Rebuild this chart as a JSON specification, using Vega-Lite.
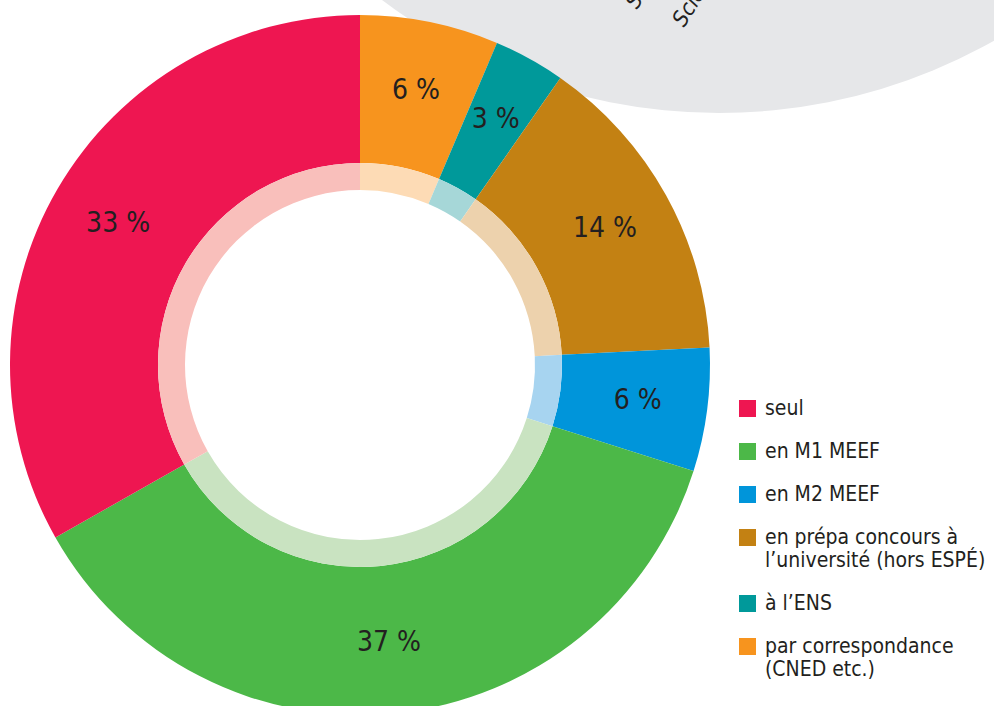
{
  "$schema": "https://vega.github.io/schema/vega-lite/v6.json",
  "width": 720,
  "height": 730,
  "padding": {"left": 0, "top": 0, "right": 274, "bottom": 0},
  "autosize": {"type": "none"},
  "background": "white",
  "view": {"stroke": null},
  "config": {"font": "DejaVu Sans Condensed"},
  "data": {
    "values": [
      {"cat": "par correspondance (CNED etc.)", "share": 6.4, "label": "6 %", "order": 1},
      {"cat": "à l’ENS", "share": 3.3, "label": "3 %", "order": 2},
      {"cat": "en prépa concours à l’université (hors ESPÉ)", "share": 14.5, "label": "14 %", "order": 3},
      {"cat": "en M2 MEEF", "share": 5.7, "label": "6 %", "order": 4},
      {"cat": "en M1 MEEF", "share": 36.9, "label": "37 %", "order": 5},
      {"cat": "seul", "share": 33.2, "label": "33 %", "order": 6}
    ]
  },
  "layer": [
    {
      "data": {"values": [{"shape": "background circle"}]},
      "mark": {"type": "arc", "x": 719, "y": -446, "outerRadius": 559, "innerRadius": 0, "theta": 0, "theta2": 6.2832, "color": "#e6e7e9"},
      "encoding": {}
    },
    {
      "data": {"values": [{"t": "Sciences", "k": 1}, {"t": "Sciences", "k": 2}]},
      "transform": [{"filter": "datum.k == 1"}],
      "mark": {"type": "text", "x": 637, "y": 10, "angle": -58, "align": "left", "baseline": "alphabetic", "fontSize": 22, "fontStyle": "italic", "color": "#231f20"},
      "encoding": {"text": {"field": "t"}}
    },
    {
      "data": {"values": [{"t": "Sciences", "k": 1}, {"t": "Sciences", "k": 2}]},
      "transform": [{"filter": "datum.k == 2"}],
      "mark": {"type": "text", "x": 684, "y": 28, "angle": -58, "align": "left", "baseline": "alphabetic", "fontSize": 22, "fontStyle": "italic", "color": "#231f20"},
      "encoding": {"text": {"field": "t"}}
    },
    {
      "mark": {"type": "arc", "outerRadius": 350, "innerRadius": 202},
      "encoding": {
        "theta": {"field": "share", "type": "quantitative", "stack": true},
        "order": {"field": "order", "type": "quantitative"},
        "color": {
          "field": "cat",
          "type": "nominal",
          "scale": {
            "domain": ["seul", "en M1 MEEF", "en M2 MEEF", "en prépa concours à l’université (hors ESPÉ)", "à l’ENS", "par correspondance (CNED etc.)"],
            "range": ["#ee1651", "#4cb848", "#0095da", "#c38113", "#00999a", "#f7941e"]
          },
          "legend": {
            "title": null,
            "orient": "none",
            "legendX": 737,
            "legendY": 398,
            "padding": 0,
            "symbolType": "square",
            "symbolSize": 289,
            "symbolStrokeWidth": 0,
            "symbolOpacity": 1,
            "labelFontSize": 21,
            "labelFont": "DejaVu Sans Condensed",
            "labelColor": "#231f20",
            "labelOffset": 7,
            "labelLimit": 300,
            "rowPadding": 21,
            "labelExpr": "datum.label == 'en prépa concours à l’université (hors ESPÉ)' ? ['en prépa concours à', 'l’université (hors ESPÉ)'] : datum.label == 'par correspondance (CNED etc.)' ? ['par correspondance', '(CNED etc.)'] : datum.label"
          }
        }
      }
    },
    {
      "mark": {"type": "arc", "outerRadius": 202, "innerRadius": 175},
      "encoding": {
        "theta": {"field": "share", "type": "quantitative", "stack": true},
        "order": {"field": "order", "type": "quantitative"},
        "color": {
          "field": "cat",
          "type": "nominal",
          "scale": {
            "domain": ["seul", "en M1 MEEF", "en M2 MEEF", "en prépa concours à l’université (hors ESPÉ)", "à l’ENS", "par correspondance (CNED etc.)"],
            "range": ["#f9bfbb", "#c9e3c1", "#a7d4f0", "#edd2ad", "#a6d7d8", "#fddbb5"]
          },
          "legend": null
        }
      }
    },
    {
      "mark": {"type": "text", "radius": 280, "fontSize": 28, "color": "#231f20", "align": "center", "baseline": "middle"},
      "encoding": {
        "theta": {"field": "share", "type": "quantitative", "stack": true},
        "order": {"field": "order", "type": "quantitative"},
        "text": {"field": "label"}
      }
    }
  ],
  "resolve": {"scale": {"color": "independent"}}
}
